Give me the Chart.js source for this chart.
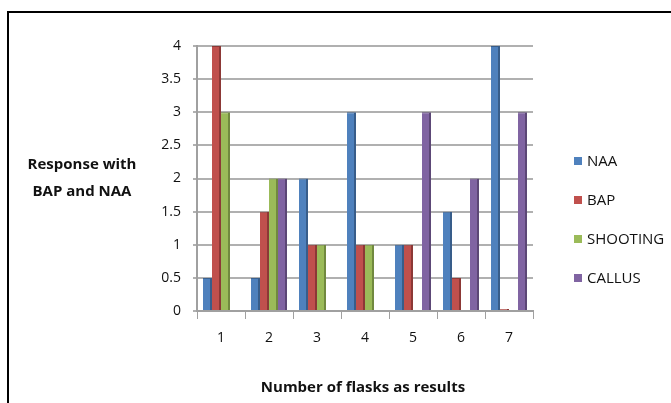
<!DOCTYPE html>
<html lang="en">
<head>
    <meta charset="UTF-8">
    <title>flasks</title>
    <script src="https://cdn.jsdelivr.net/npm/chart.js"></script>
    <style>
        body { margin: 0; background: #fff; }
        #wrap { position: relative; width: 671px; height: 403px; }
    </style>
</head>
<body>
    <div id="wrap">
        <canvas id="myChart" width="671" height="403"></canvas>
    </div>

    <script>
        // values
        const categories = ['1', '2', '3', '4', '5', '6', '7']
        const naa = [0.5, 0.5, 2, 3, 1, 1.5, 4]
        const bap = [4, 1.5, 1, 1, 1, 0.5, 0.03]
        const shooting = [3, 2, 1, 1, 0, 0, 0]
        const callus = [0, 2, 0, 0, 3, 2, 3]
        const seriesNames = ['NAA', 'BAP', 'SHOOTING', 'CALLUS']
        const yTitle = ['Response with', 'BAP and NAA']
        const xTitle = 'Number of flasks as results'

        const fill = ['#4F81BD', '#C0504D', '#9BBB59', '#8064A2']
        const side = ['#385D8A', '#8C3836', '#71893F', '#5C4776']
        const fontFam = '"Open Sans", "Liberation Sans", sans-serif'

        // frame, horizontal y title and the legend on the right
        const extras = {
            id: 'extras',
            afterDraw(chart) {
                const c = chart.ctx
                c.save()
                c.strokeStyle = '#000'
                c.lineWidth = 2
                c.strokeRect(8, 12, 700, 500)

                c.fillStyle = '#111'
                c.textAlign = 'center'
                c.textBaseline = 'middle'
                c.font = 'bold 15px ' + fontFam
                c.fillText(yTitle[0], 82, 165)
                c.fillText(yTitle[1], 82, 192)
                c.fillText(xTitle, 363, 388)

                c.textAlign = 'left'
                c.font = '15px ' + fontFam
                chart.data.datasets.forEach((ds, i) => {
                    const y = 161 + i * 39
                    c.fillStyle = ds.backgroundColor
                    c.fillRect(574, y - 4, 8, 8)
                    c.fillStyle = '#111'
                    c.fillText(ds.label, 587, y + 1)
                })
                c.restore()
            }
        }

        const lists = [naa, bap, shooting, callus]
        const ctx = document.getElementById('myChart')
        const myChart = new Chart(ctx, {
            type: 'bar',
            data: {
                labels: categories,
                datasets: lists.map((d, i) => ({
                    label: seriesNames[i],
                    data: d,
                    backgroundColor: fill[i],
                    borderColor: side[i],
                    borderWidth: { left: 0, right: 2, top: 1, bottom: 0 },
                    borderSkipped: 'bottom',
                    categoryPercentage: 0.75,
                    barPercentage: 1
                }))
            },
            options: {
                responsive: false,
                animation: false,
                layout: { padding: { left: 0, top: 46, right: 138, bottom: 0 } },
                plugins: {
                    legend: { display: false },
                    tooltip: { enabled: false }
                },
                scales: {
                    x: {
                        afterFit: s => { s.height = 92 },
                        grid: {
                            offset: true,
                            drawOnChartArea: false,
                            tickLength: 8,
                            color: '#a0a0a0'
                        },
                        border: { color: '#a0a0a0', width: 2 },
                        ticks: {
                            padding: 11,
                            color: '#111',
                            font: { family: fontFam, size: 14 }
                        }
                    },
                    y: {
                        min: 0,
                        max: 4,
                        afterFit: s => { s.width = 197 },
                        grid: {
                            color: '#b0b0b0',
                            lineWidth: 2,
                            tickLength: 4
                        },
                        border: { color: '#a0a0a0', width: 2 },
                        ticks: {
                            stepSize: 0.5,
                            padding: 12,
                            color: '#111',
                            font: { family: fontFam, size: 14 },
                            callback: v => String(v)
                        }
                    }
                }
            },
            plugins: [extras]
        })
    </script>
</body>
</html>
